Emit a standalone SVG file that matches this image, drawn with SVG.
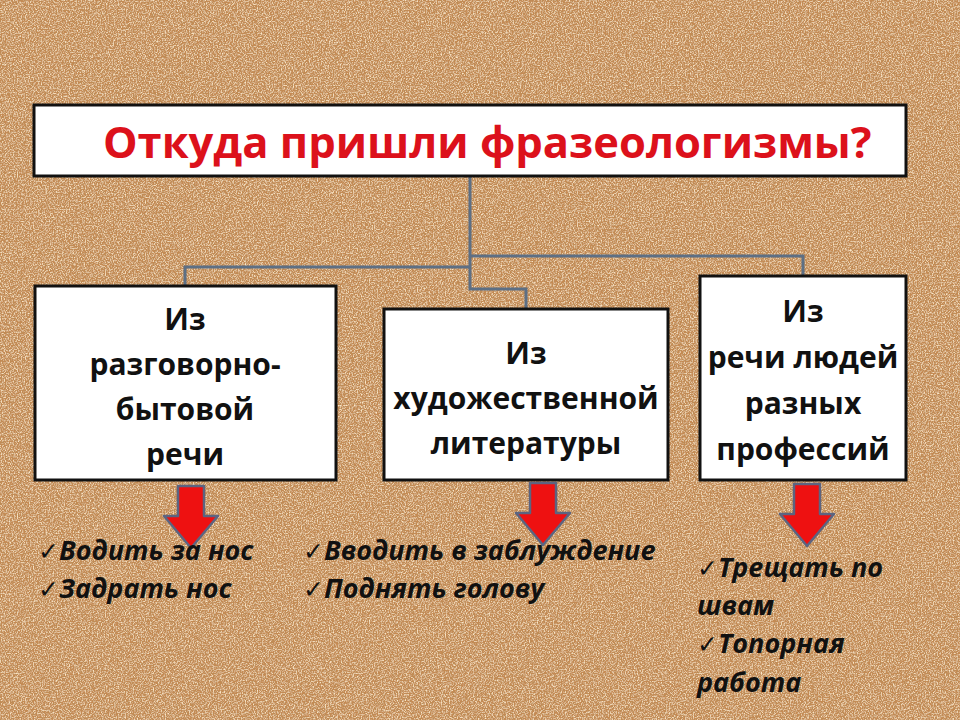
<svg xmlns="http://www.w3.org/2000/svg" width="960" height="720" viewBox="0 0 960 720">
<defs>
<filter id="cork" x="0" y="0" width="100%" height="100%">
<feTurbulence type="fractalNoise" baseFrequency="0.6" numOctaves="2" seed="4" result="n"/>
<feColorMatrix in="n" type="matrix" values="0 0 0 0 0.48  0 0 0 0 0.27  0 0 0 0 0.1  2.6 0 0 0 -1.15" result="dark"/>
<feTurbulence type="fractalNoise" baseFrequency="0.75" numOctaves="2" seed="9" result="n2"/>
<feColorMatrix in="n2" type="matrix" values="0 0 0 0 0.97  0 0 0 0 0.8  0 0 0 0 0.57  2.6 0 0 0 -1.15" result="light"/>
<feMerge><feMergeNode in="SourceGraphic"/><feMergeNode in="dark"/><feMergeNode in="light"/></feMerge>
</filter>
<path id="arrow" d="M-13,0 H13 V30 H27 L0,62 L-27,30 H-13 Z"/>
</defs>
<style>
.box{fill:#ffffff;stroke:#111111;stroke-width:3}
.btxt{font-family:"Open Sans","Liberation Sans",sans-serif;font-weight:700;font-size:30px;fill:#111111;text-anchor:middle}
.title{font-family:"Open Sans","Liberation Sans",sans-serif;font-weight:700;font-size:43.5px;fill:#dc111b}
.conn{fill:none;stroke:#5d6f84;stroke-width:3}
.arr{fill:#ee1111;stroke:#5c6480;stroke-width:2.5;stroke-linejoin:round}
.ex{font-family:"Open Sans","Liberation Sans",sans-serif;font-weight:700;font-style:italic;font-size:27px;fill:#111111}
.ck{font-family:"DejaVu Sans",sans-serif;font-style:normal;font-weight:bold;font-size:25px}
</style>
<rect x="0" y="0" width="960" height="720" fill="#c48a52" filter="url(#cork)"/>

<g id="connectors">
<path class="conn" d="M470,176 V289 H526 V309"/>
<path class="conn" d="M470,256 H803 V276"/>
<path class="conn" d="M470,267 H185 V286"/>
</g>

<g id="title">
<rect class="box" x="34" y="105" width="872" height="71"/>
<text class="title" x="103" y="158">Откуда пришли фразеологизмы?</text>
</g>

<g id="node-left">
<rect class="box" x="35" y="286" width="301" height="194"/>
<text class="btxt" x="185" y="330">Из</text>
<text class="btxt" x="185" y="375">разговорно-</text>
<text class="btxt" x="185" y="420">бытовой</text>
<text class="btxt" x="185" y="465">речи</text>
</g>

<g id="node-middle">
<rect class="box" x="384" y="309" width="284" height="171"/>
<text class="btxt" x="526" y="364">Из</text>
<text class="btxt" x="526" y="409">художественной</text>
<text class="btxt" x="526" y="454">литературы</text>
</g>

<g id="node-right">
<rect class="box" x="700" y="276" width="206" height="204"/>
<text class="btxt" x="803" y="322">Из</text>
<text class="btxt" x="803" y="368">речи людей</text>
<text class="btxt" x="803" y="414">разных</text>
<text class="btxt" x="803" y="460">профессий</text>
</g>

<g id="arrows">
<use href="#arrow" class="arr" x="191" y="486"/>
<use href="#arrow" class="arr" x="543" y="483"/>
<use href="#arrow" class="arr" x="807" y="484"/>
</g>

<g id="examples-left">
<text class="ex" x="38" y="560"><tspan class="ck">✓</tspan>Водить за нос</text>
<text class="ex" x="38" y="598"><tspan class="ck">✓</tspan>Задрать нос</text>
</g>
<g id="examples-middle">
<text class="ex" x="303" y="560"><tspan class="ck">✓</tspan>Вводить в заблуждение</text>
<text class="ex" x="303" y="598"><tspan class="ck">✓</tspan>Поднять голову</text>
</g>
<g id="examples-right">
<text class="ex" x="697" y="577"><tspan class="ck">✓</tspan>Трещать по</text>
<text class="ex" x="697" y="615">швам</text>
<text class="ex" x="697" y="653"><tspan class="ck">✓</tspan>Топорная</text>
<text class="ex" x="697" y="692">работа</text>
</g>
</svg>
